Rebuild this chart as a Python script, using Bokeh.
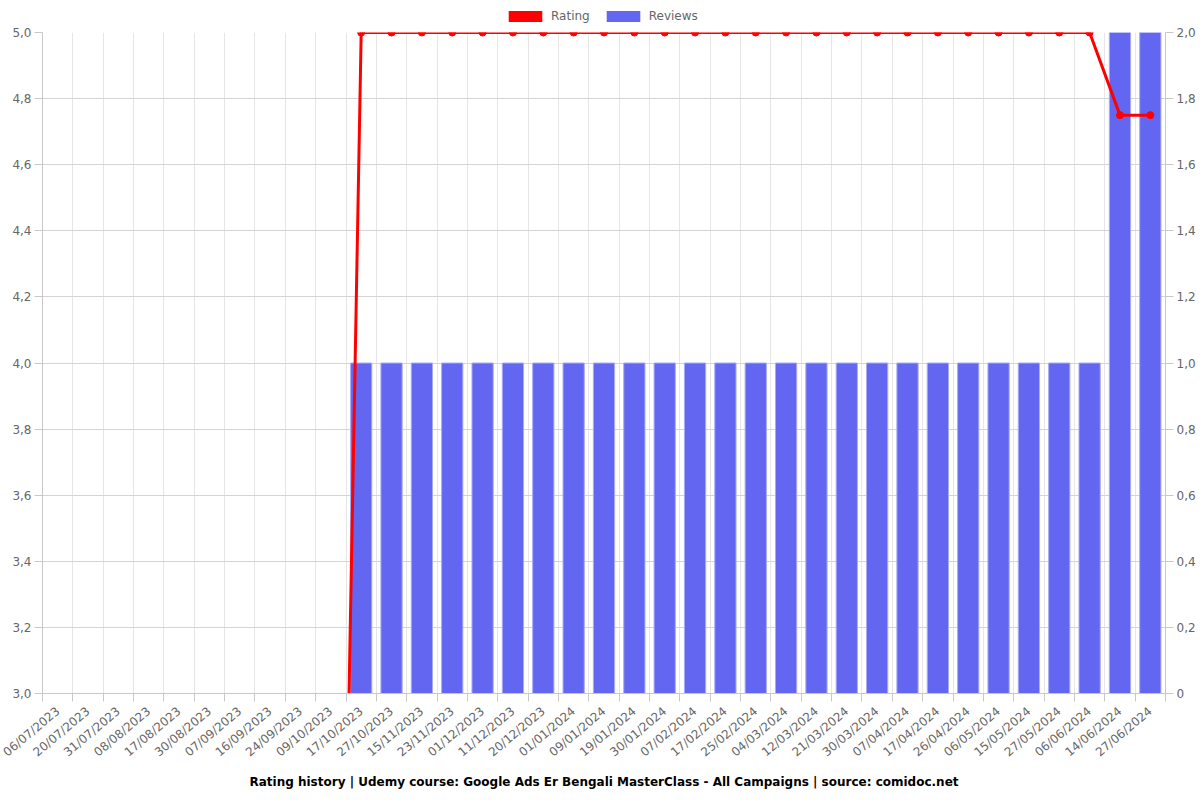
import math
from bokeh.plotting import figure
from bokeh.layouts import column
from bokeh.models import (Range1d, LinearAxis, FixedTicker, Legend, LegendItem,
                          Title, CustomJSTickFormatter)
from bokeh.embed import file_html
from bokeh.resources import INLINE

dates = ["06/07/2023", "20/07/2023", "31/07/2023", "08/08/2023", "17/08/2023",
         "30/08/2023", "07/09/2023", "16/09/2023", "24/09/2023", "09/10/2023",
         "17/10/2023", "27/10/2023", "15/11/2023", "23/11/2023", "01/12/2023",
         "11/12/2023", "20/12/2023", "01/01/2024", "09/01/2024", "19/01/2024",
         "30/01/2024", "07/02/2024", "17/02/2024", "25/02/2024", "04/03/2024",
         "12/03/2024", "21/03/2024", "30/03/2024", "07/04/2024", "17/04/2024",
         "26/04/2024", "06/05/2024", "15/05/2024", "27/05/2024", "06/06/2024",
         "14/06/2024", "27/06/2024"]

rating = [0, 0, 0, 0, 0, 0, 0, 0, 0, 0,
          5, 5, 5, 5, 5, 5, 5, 5, 5, 5,
          5, 5, 5, 5, 5, 5, 5, 5, 5, 5,
          5, 5, 5, 5, 5, 4.75, 4.75]

reviews = [0, 0, 0, 0, 0, 0, 0, 0, 0, 0,
           1, 1, 1, 1, 1, 1, 1, 1, 1, 1,
           1, 1, 1, 1, 1, 1, 1, 1, 1, 1,
           1, 1, 1, 1, 1, 2, 2]

left_ticks = [3.0, 3.2, 3.4, 3.6, 3.8, 4.0, 4.2, 4.4, 4.6, 4.8, 5.0]
right_ticks = [0, 0.2, 0.4, 0.6, 0.8, 1.0, 1.2, 1.4, 1.6, 1.8, 2.0]

series_names = ["Rating", "Reviews"]
title_text = ("Rating history | Udemy course: Google Ads Er Bengali MasterClass - "
              "All Campaigns | source: comidoc.net")

FONT = "DejaVu Sans"
RED = "#ff0000"
BLUE = "#6366f1"
n = len(dates)
xs = list(range(n))
centers = xs
bounds = [i - 0.5 for i in range(n + 1)]

p = figure(width=1200, height=774, output_backend="svg", toolbar_location=None,
           x_range=Range1d(-0.5, n - 0.5), y_range=Range1d(3, 5),
           x_axis_location=None, y_axis_location=None,
           min_border_left=42, min_border_right=35, min_border_top=6,
           min_border_bottom=107, background_fill_color="white",
           border_fill_color="white", outline_line_color=None)
p.extra_y_ranges = {"rev": Range1d(0, 2)}

# grids
p.xgrid.ticker = FixedTicker(ticks=bounds)
p.xgrid.grid_line_color = "#e6e6e6"
p.ygrid.ticker = FixedTicker(ticks=left_ticks)
p.ygrid.grid_line_color = "#d4d4d4"

bars = p.vbar(x=xs, top=reviews, width=0.7, y_range_name="rev",
              fill_color=BLUE, line_color="#a9abf7", line_width=1)
p.line(xs, rating, line_color=RED, line_width=3)
p.scatter(xs, rating, size=7, fill_color=RED, line_color=RED)

def style_axis(ax):
    ax.axis_line_color = "#c8c8c8"
    ax.major_tick_line_color = "#c8c8c8"
    ax.minor_tick_line_color = "#c8c8c8"
    ax.major_label_text_color = "#666666"
    ax.major_label_text_font = FONT
    ax.major_label_text_font_size = "12px"
    ax.major_tick_in = 0
    ax.minor_tick_in = 0

yl = LinearAxis(ticker=FixedTicker(ticks=left_ticks),
                formatter=CustomJSTickFormatter(code="return tick.toFixed(1).replace('.', ',');"))
style_axis(yl)
yl.major_tick_out = 8
yl.minor_tick_out = 0
yl.major_label_standoff = 3
p.add_layout(yl, "left")

yr = LinearAxis(y_range_name="rev", ticker=FixedTicker(ticks=right_ticks),
                formatter=CustomJSTickFormatter(
                    code="return tick == 0 ? '0' : tick.toFixed(1).replace('.', ',');"))
style_axis(yr)
yr.major_tick_out = 8
yr.minor_tick_out = 0
yr.major_label_standoff = 3
p.add_layout(yr, "right")

xa = LinearAxis(ticker=FixedTicker(ticks=centers, minor_ticks=bounds),
                major_label_overrides={i: d for i, d in enumerate(dates)})
style_axis(xa)
xa.major_tick_out = 0
xa.minor_tick_out = 8
xa.major_label_orientation = math.radians(40)
xa.major_label_standoff = 8
p.add_layout(xa, "below")

t = Title(text=title_text, align="center", text_font=FONT, text_font_size="12px",
          text_font_style="bold", text_color="#000000", standoff=11, offset=0)
p.add_layout(t, "below")

# legend strip above the chart
lg = figure(width=1200, height=26, output_backend="svg", toolbar_location=None,
            x_range=Range1d(0, 1), y_range=Range1d(0, 1),
            x_axis_location=None, y_axis_location=None,
            min_border=0, outline_line_color=None,
            background_fill_color="white", border_fill_color="white")
lg.grid.visible = False
sw_r = lg.vbar(x=[0.5], top=[0], bottom=[0], width=0.01, fill_color=RED,
               line_color=RED, line_alpha=0)
sw_b = lg.vbar(x=[0.5], top=[0], bottom=[0], width=0.01, fill_color=BLUE,
               line_color="#a9abf7", line_alpha=0)
legend = Legend(items=[LegendItem(label=series_names[0], renderers=[sw_r]),
                       LegendItem(label=series_names[1], renderers=[sw_b])],
                orientation="horizontal", location=(462, 3),
                glyph_width=42, glyph_height=14, label_standoff=5, spacing=12,
                padding=0, margin=0, border_line_color=None,
                background_fill_alpha=0,
                label_text_font=FONT, label_text_font_size="12px",
                label_text_color="#666666")
lg.add_layout(legend, "center")

layout = column(lg, p, spacing=0)
open("out.html", "w").write(file_html(layout, INLINE))
